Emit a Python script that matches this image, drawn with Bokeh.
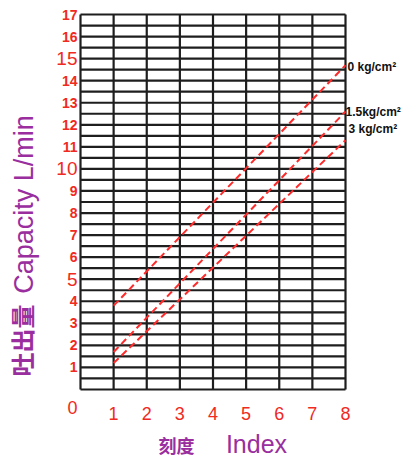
from bokeh.plotting import figure
from bokeh.models import Range1d, Label
from bokeh.embed import file_html
from bokeh.resources import INLINE
import math

# ---- data ----
index_ticks = [1, 2, 3, 4, 5, 6, 7, 8]
capacity_ticks = list(range(1, 18))
big_ticks = [5, 10, 15]
line_x = [1, 8]
cap_0 = [3.8, 14.7]
cap_15 = [1.7, 12.6]
cap_3 = [1.2, 11.3]
pressure_labels = ["0  kg/cm²", "1.5kg/cm²", "3  kg/cm²"]

RED = "#f02a22"
PURPLE = "#9a2e9e"
FONT = "Liberation Sans"

W, H = 402, 456
# pixel placement of the grid (from top-left)
GX0, GX1, GY0, GY1 = 80, 345, 389, 14
XMIN, XMAX, YMIN, YMAX = 0, 8, 0, 17
sx = (GX1 - GX0) / (XMAX - XMIN)
sy = (GY0 - GY1) / (YMAX - YMIN)
x_range = Range1d(XMIN - GX0 / sx, XMAX + (W - GX1) / sx)
y_range = Range1d(YMIN - (H - GY0) / sy, YMAX + GY1 / sy)

p = figure(width=W, height=H, output_backend="svg", toolbar_location=None,
           x_range=x_range, y_range=y_range,
           x_axis_location=None, y_axis_location=None,
           min_border=0)
p.grid.visible = False
p.background_fill_color = "white"
p.border_fill_color = "white"
p.outline_line_color = None

# grid
vx = list(range(XMIN, XMAX + 1))
p.segment(x0=vx, y0=[YMIN] * len(vx), x1=vx, y1=[YMAX] * len(vx),
          line_color="#1e1e1e", line_width=2.2)
hy = [i * 0.5 for i in range(0, 2 * YMAX + 1)]
p.segment(x0=[XMIN] * len(hy), y0=hy, x1=[XMAX] * len(hy), y1=hy,
          line_color="#1e1e1e", line_width=2.2)

for ys in (cap_0, cap_15, cap_3):
    p.line(line_x, ys, line_color="#ff2a2a", line_width=2, line_dash="7 4")

# y tick labels
for v in capacity_ticks:
    big = v in big_ticks
    p.add_layout(Label(x=0, y=v, x_offset=-3, text=str(v),
                       text_align="right", text_baseline="middle",
                       text_color=RED, text_font=FONT,
                       text_font_size="19px" if big else "14px",
                       text_font_style="normal" if big else "bold"))
# zero label in corner
p.add_layout(Label(x=0, y=0, x_offset=-3, y_offset=-18, text="0",
                   text_align="right", text_baseline="middle",
                   text_color=RED, text_font=FONT, text_font_size="18px"))
# x tick labels
for v in index_ticks:
    p.add_layout(Label(x=v, y=0, y_offset=-24, text=str(v),
                       text_align="center", text_baseline="middle",
                       text_color=RED, text_font=FONT, text_font_size="18px"))

# pressure labels
ends = [cap_0[-1], cap_15[-1], cap_3[-1]]
offs = [(2, -2), (0, 0), (3, 11)]
for t, yv, (dx, dy) in zip(pressure_labels, ends, offs):
    p.add_layout(Label(x=8, y=yv, x_offset=dx, y_offset=dy, text=t,
                       text_align="left", text_baseline="middle",
                       text_color="#111111", text_font=FONT, text_font_size="12px",
                       text_font_style="bold"))

def scr(px, py):
    return px, H - py

x, y = scr(21, 340)
p.add_layout(Label(x=x, y=y, x_units="screen", y_units="screen",
                   text="吐出量", angle=math.pi / 2, text_align="center", text_baseline="middle",
                   text_color=PURPLE, text_font="Noto Sans CJK SC", text_font_size="24px",
                   text_font_style="bold"))
x, y = scr(23, 204)
p.add_layout(Label(x=x, y=y, x_units="screen", y_units="screen",
                   text="Capacity L/min", angle=math.pi / 2, text_align="center", text_baseline="middle",
                   text_color=PURPLE, text_font=FONT, text_font_size="27px"))
x, y = scr(176, 444)
p.add_layout(Label(x=x, y=y, x_units="screen", y_units="screen",
                   text="刻度", text_align="center", text_baseline="middle",
                   text_color=PURPLE, text_font="Noto Sans CJK SC", text_font_size="18px",
                   text_font_style="bold"))
x, y = scr(256, 443)
p.add_layout(Label(x=x, y=y, x_units="screen", y_units="screen",
                   text="Index", text_align="center", text_baseline="middle",
                   text_color=PURPLE, text_font=FONT, text_font_size="25px"))

open("out.html", "w").write(file_html(p, INLINE))
